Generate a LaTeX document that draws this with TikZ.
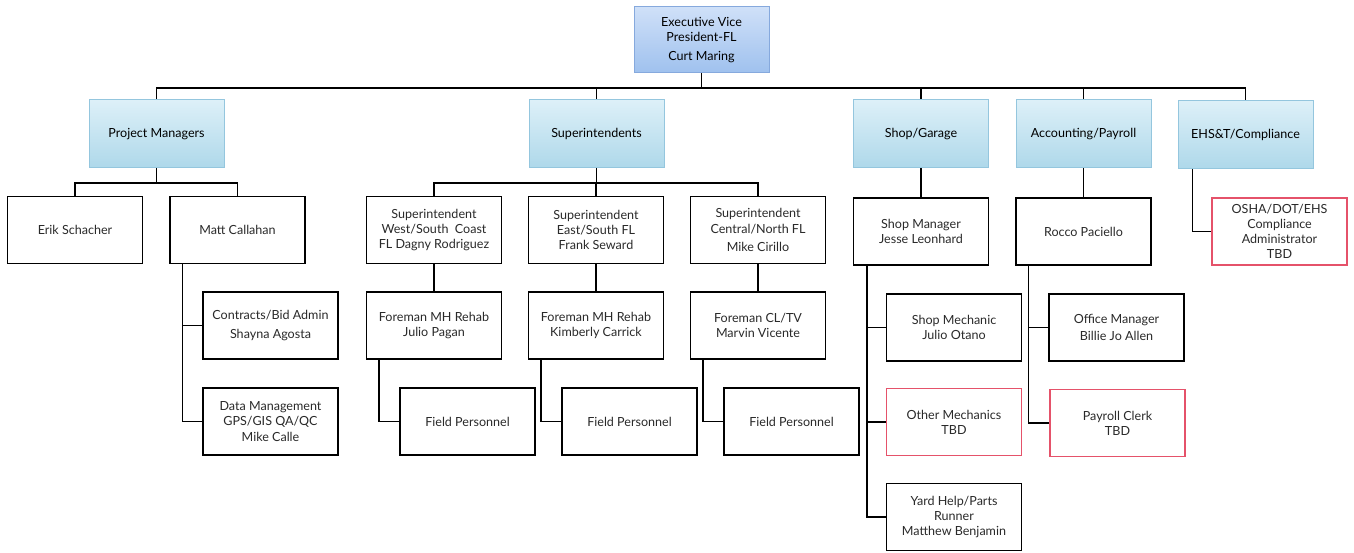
\documentclass[tikz,border=0pt]{standalone}
\usepackage{fontspec}
\setmainfont{Lato}
\usetikzlibrary{calc}
\definecolor{txt}{HTML}{2A2A2A}
\definecolor{exectop}{HTML}{CFE0F8}
\definecolor{execbot}{HTML}{9FC1EE}
\definecolor{execdraw}{HTML}{86A9DD}
\definecolor{deptop}{HTML}{DDF0F8}
\definecolor{depbot}{HTML}{AED8EA}
\definecolor{depdraw}{HTML}{94C6DE}
\definecolor{tbd}{HTML}{E5526A}
\begin{document}
\begin{tikzpicture}[x=1bp,y=-1bp,
  every node/.style={font=\fontsize{12.6}{15.2}\selectfont, text=txt, align=center, inner sep=2bp},
  pbox/.style={draw=black, line width=1.5bp, fill=white, minimum width=135bp, minimum height=67bp},
  tbdbox/.style={pbox, draw=tbd},
  execbox/.style={draw=execdraw, line width=1bp, top color=exectop, bottom color=execbot, minimum width=135bp, minimum height=66bp, text=black},
  deptbox/.style={draw=depdraw, line width=1bp, top color=deptop, bottom color=depbot, minimum width=135bp, minimum height=68bp, text=black},
  link/.style={draw=black, line width=1.5bp}
]
\useasboundingbox (0,0) rectangle (1354,553);
% top
\node[execbox] (exec) at (701.5,40) {Executive Vice\\President-FL\\[3bp]Curt Maring};
% departments
\node[deptbox] (pm) at (156.5,134) {Project Managers};
\node[deptbox] (sup) at (596.5,134) {Superintendents};
\node[deptbox] (shop) at (921,134) {Shop/Garage};
\node[deptbox] (acc) at (1083.5,134) {Accounting/Payroll};
\node[deptbox] (ehs) at (1245.5,135) {EHS\&T/Compliance};
% project managers
\node[pbox] (erik) at (75,230) {Erik Schacher};
\node[pbox] (matt) at (237.5,230) {Matt Callahan};
\node[pbox] (contracts) at (270.5,325.5) {Contracts/Bid Admin\\[3bp]Shayna Agosta};
\node[pbox] (data) at (270.5,421.5) {Data Management\\GPS/GIS QA/QC\\Mike Calle};
% superintendents
\node[pbox] (west) at (434,230) {Superintendent\\West/South\ \ Coast\\FL Dagny Rodriguez};
\node[pbox] (east) at (596,230) {Superintendent\\East/South FL\\Frank Seward};
\node[pbox] (central) at (758,230) {Superintendent\\Central/North FL\\[3bp]Mike Cirillo};
\node[pbox] (fore1) at (434,325.5) {Foreman MH Rehab\\Julio Pagan};
\node[pbox] (fore2) at (596,325.5) {Foreman MH Rehab\\Kimberly Carrick};
\node[pbox] (fore3) at (758,325.5) {Foreman CL/TV\\Marvin Vicente};
\node[pbox] (field1) at (467.5,421.5) {Field Personnel};
\node[pbox] (field2) at (629.5,421.5) {Field Personnel};
\node[pbox] (field3) at (791.5,421.5) {Field Personnel};
% shop
\node[pbox] (shopmgr) at (921,231.5) {Shop Manager\\Jesse Leonhard};
\node[pbox] (mech) at (954,327.5) {Shop Mechanic\\Julio Otano};
\node[tbdbox] (other) at (954,422) {Other Mechanics\\TBD};
\node[pbox] (yard) at (954,517) {Yard Help/Parts\\Runner\\Matthew Benjamin};
% accounting
\node[pbox] (rocco) at (1083.5,231.5) {Rocco Paciello};
\node[pbox] (office) at (1116.5,327.5) {Office Manager\\[2bp]Billie Jo Allen};
\node[tbdbox] (payroll) at (1117.5,423) {Payroll Clerk\\TBD};
% ehs
\node[tbdbox] (osha) at (1279.5,231.5) {OSHA/DOT/EHS\\Compliance\\Administrator\\TBD};
% connectors
\coordinate (bus0) at (701.5,88);
\foreach \d in {pm,sup,shop,acc,ehs}{\draw[link] (exec.south) -- (bus0) -| (\d.north);}
\coordinate (pmbus) at (156.5,183);
\foreach \d in {erik,matt}{\draw[link] (pm.south) -- (pmbus) -| (\d.north);}
\foreach \d in {contracts,data}{\draw[link] ([xshift=13bp]matt.south west) |- (\d.west);}
\coordinate (supbus) at (596.5,183);
\foreach \d in {west,east,central}{\draw[link] (sup.south) -- (supbus) -| (\d.north);}
\draw[link] (west.south) -- (fore1.north);
\draw[link] (east.south) -- (fore2.north);
\draw[link] (central.south) -- (fore3.north);
\draw[link] ([xshift=13bp]fore1.south west) |- (field1.west);
\draw[link] ([xshift=13bp]fore2.south west) |- (field2.west);
\draw[link] ([xshift=13bp]fore3.south west) |- (field3.west);
\draw[link] (shop.south) -- (shopmgr.north);
\foreach \d in {mech,other,yard}{\draw[link] ([xshift=14bp]shopmgr.south west) |- (\d.west);}
\draw[link] (acc.south) -- (rocco.north);
\foreach \d in {office,payroll}{\draw[link] ([xshift=13bp]rocco.south west) |- (\d.west);}
\draw[link] ([xshift=15bp]ehs.south west) |- (osha.west);
\end{tikzpicture}
\end{document}
